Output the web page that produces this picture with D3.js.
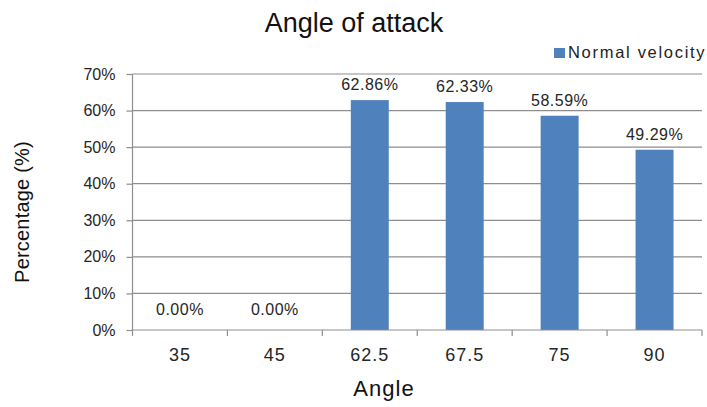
<!DOCTYPE html>
<html>
<head>
<meta charset="utf-8">
<script src="https://cdn.jsdelivr.net/npm/d3@7/dist/d3.min.js"></script>
<style>
  html, body { margin: 0; padding: 0; background: #fff; }
  svg { display: block; font-family: "Liberation Sans", Arial, sans-serif; }
</style>
</head>
<body>
<svg id="chart" width="707" height="407"></svg>
<script>
// Angle of attack vs. share of normal velocity
const categories = ["35", "45", "62.5", "67.5", "75", "90"];
const normalVelocity = [0.0, 0.0, 62.86, 62.33, 58.59, 49.29];
const yTicks = [0, 10, 20, 30, 40, 50, 60, 70];
const seriesName = "Normal velocity";

const svg = d3.select("#chart");
const margin = { left: 132.5, right: 5, top: 74, bottom: 77 };
const W = 707, H = 407;
const plotW = W - margin.left - margin.right;
const plotH = H - margin.top - margin.bottom;

const x = d3.scaleBand().domain(categories).range([0, plotW]).paddingInner(0.6).paddingOuter(0.3);
const xb = d3.scaleBand().domain(categories).range([0, plotW]);
const y = d3.scaleLinear().domain([0, 70]).range([plotH, 0]);

const g = svg.append("g").attr("transform", `translate(${margin.left},${margin.top})`);

// horizontal gridlines
g.append("g").selectAll("line").data(yTicks.filter(t => t > 0)).join("line")
  .attr("x1", 0).attr("x2", plotW)
  .attr("y1", d => y(d)).attr("y2", d => y(d))
  .attr("stroke", "#8e8e8e").attr("stroke-width", 1.2);

// y axis
const yAxis = g.append("g").call(d3.axisLeft(y).tickValues(yTicks).tickSize(6).tickPadding(11).tickFormat(d => d + "%"));
yAxis.select(".domain").attr("stroke", "#8e8e8e").attr("stroke-width", 1.2).attr("d", `M0,0V${plotH}`);
yAxis.selectAll(".tick line").attr("stroke", "#8e8e8e").attr("stroke-width", 1.2);
yAxis.selectAll(".tick text").attr("font-size", 16).attr("fill", "#262626")
  .attr("font-family", "'Liberation Sans', Arial, sans-serif");

// bars
g.append("g").selectAll("rect").data(normalVelocity).join("rect")
  .attr("x", (d, i) => x(categories[i]))
  .attr("width", x.bandwidth())
  .attr("y", d => y(d))
  .attr("height", d => plotH - y(d))
  .attr("fill", "#4f81bd");

// x axis with ticks at category boundaries
const xAxisG = g.append("g").attr("transform", `translate(0,${plotH})`);
xAxisG.append("line").attr("x1", 0).attr("x2", plotW).attr("y1", 0).attr("y2", 0)
  .attr("stroke", "#8e8e8e").attr("stroke-width", 1.2);
const bounds = categories.map(c => xb(c)).concat([plotW]);
xAxisG.selectAll("line.tk").data(bounds).join("line").attr("class", "tk")
  .attr("x1", d => d).attr("x2", d => d).attr("y1", 0).attr("y2", 6)
  .attr("stroke", "#8e8e8e").attr("stroke-width", 1.2);
xAxisG.selectAll("text").data(categories).join("text")
  .attr("x", d => xb(d) + xb.bandwidth() / 2).attr("y", 31)
  .attr("text-anchor", "middle").attr("font-size", 18).attr("letter-spacing", 1)
  .attr("fill", "#262626")
  .text(d => d);

// value labels
g.append("g").selectAll("text").data(normalVelocity).join("text")
  .attr("x", (d, i) => xb(categories[i]) + xb.bandwidth() / 2)
  .attr("y", d => y(d) - (d === 0 ? 15 : 10))
  .attr("text-anchor", "middle").attr("font-size", 16).attr("letter-spacing", 0.5)
  .attr("fill", "#262626")
  .text(d => d.toFixed(2) + "%");

// title
svg.append("text").attr("x", 354).attr("y", 32).attr("text-anchor", "middle")
  .attr("font-size", 27).attr("fill", "#111").text("Angle of attack");

// axis titles
svg.append("text").attr("x", 384).attr("y", 396).attr("text-anchor", "middle")
  .attr("font-size", 22).attr("letter-spacing", 1).attr("fill", "#111").text("Angle");
svg.append("text").attr("transform", "translate(29,212) rotate(-90)")
  .attr("text-anchor", "middle").attr("font-size", 20).attr("letter-spacing", 0.2)
  .attr("fill", "#111").text("Percentage (%)");

// legend
const leg = svg.append("g").attr("transform", "translate(554,46)");
leg.append("rect").attr("x", 0).attr("y", 2).attr("width", 11).attr("height", 10).attr("fill", "#4f81bd");
leg.append("text").attr("x", 14).attr("y", 12).attr("font-size", 16.5).attr("letter-spacing", 1.7)
  .attr("fill", "#222").text(seriesName);
</script>
</body>
</html>
